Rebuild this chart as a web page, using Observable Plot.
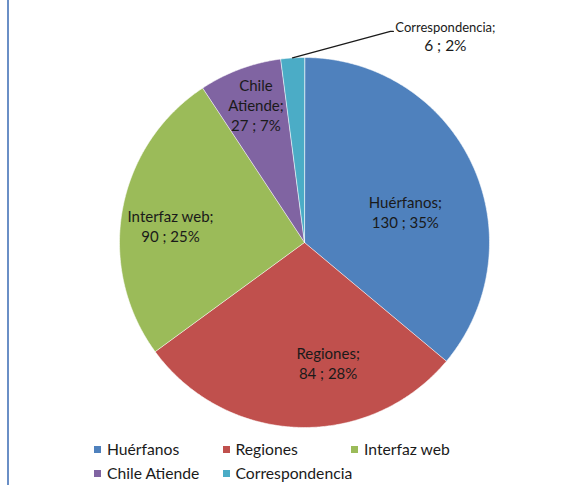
<!DOCTYPE html>
<html>
<head>
<meta charset="utf-8">
<script src="https://cdn.jsdelivr.net/npm/d3@7"></script>
<script src="https://cdn.jsdelivr.net/npm/@observablehq/plot@0.6"></script>
<style>
  body { margin: 0; background: #fff; }
  #frame { position: relative; width: 564px; height: 486px; font-family: Lato, "Liberation Sans", sans-serif; color: #1a1a1a; }
  #frame::before { content: ""; position: absolute; left: 7px; top: 0; width: 2px; height: 485px; background: #6a8fc6; }
  #chart svg { display: block; }
  .legend { position: absolute; left: 94px; top: 440px; display: grid; grid-template-columns: 128.5px 128.5px 128.5px; row-gap: 5px; font-size: 15.7px; line-height: 19px; }
  .legend .item { display: flex; align-items: center; white-space: nowrap; }
  .legend .sw { width: 7px; height: 7px; margin-right: 6px; flex: none; }
</style>
</head>
<body>
<div id="frame">
  <div id="chart"></div>
  <div class="legend" id="legend"></div>
</div>
<script>
// Requests by channel
const categories = ["Huérfanos", "Regiones", "Interfaz web", "Chile Atiende", "Correspondencia"];
const counts = [130, 84, 90, 27, 6];
const percents = [35, 28, 25, 7, 2];
const colors = ["#4F81BD", "#C0504D", "#9BBB59", "#8064A2", "#4BACC6"];
const labelNames = ["Huérfanos;", "Regiones;", "Interfaz web;", "Chile\nAtiende;", "Correspondencia;"];

// Layout of the drawing (pixels)
const W = 564, H = 436, cx = 304, cy = 242, R = 185;

const data = categories.map((name, i) => ({
  name, count: counts[i], percent: percents[i],
  title: labelNames[i],
  value: `${counts[i]} ; ${percents[i]}%`,
  label: `${labelNames[i]}\n${counts[i]} ; ${percents[i]}%`
}));

// Slices clockwise from 12 o'clock, sized by the stated percentage
const arcs = d3.pie().sort(null).value(d => d.percent)(data);

const polar = (t, r) => [r * Math.sin(t), -r * Math.cos(t)];

function slice(a) {
  const n = Math.max(4, Math.ceil((a.endAngle - a.startAngle) / (Math.PI / 360)));
  const ring = [[0, 0]];
  for (let k = 0; k <= n; ++k) ring.push(polar(a.startAngle + (a.endAngle - a.startAngle) * k / n, 1));
  ring.push([0, 0]);
  return {type: "Feature", properties: {name: a.data.name}, geometry: {type: "Polygon", coordinates: [ring]}};
}
const slices = arcs.map(slice);

// Inside labels: radial distance and small turn (degrees) from the slice's mid-angle
const inside = {
  "Huérfanos": {r: 0.57, turn: 8},
  "Regiones": {r: 0.66, turn: -13},
  "Interfaz web": {r: 0.73, turn: -3},
  "Chile Atiende": {r: 0.79, turn: 1}
};
const insideLabels = arcs.filter(a => inside[a.data.name]).map(a => {
  const o = inside[a.data.name];
  const t = (a.startAngle + a.endAngle) / 2 + o.turn * Math.PI / 180;
  const [x, y] = polar(t, o.r);
  return {x, y, label: a.data.label};
});

// Outside label with leader line for the smallest slice
const small = arcs[arcs.length - 1];
const edge = polar((small.startAngle + small.endAngle) / 2, 1);
const elbow = [edge[0] + 0.529, edge[1] - 0.143];
const tail = [elbow[0] + 0.016, elbow[1]];
const leader = [edge, elbow, tail].map(([x, y]) => ({x, y}));
const outsideLabel = [{x: tail[0], y: tail[1], title: small.data.title, value: small.data.value}];

const chart = Plot.plot({
  width: W,
  height: H,
  margin: 0,
  style: {fontFamily: "Lato, 'Liberation Sans', sans-serif", fontSize: "15px", background: "transparent"},
  projection: {
    type: "identity",
    domain: {type: "MultiPoint", coordinates: [[-cx / R, -cy / R], [(W - cx) / R, (H - cy) / R]]}
  },
  color: {domain: categories, range: colors},
  marks: [
    Plot.geo(slices, {fill: d => d.properties.name, stroke: "#ffffff", strokeWidth: 0.8, strokeOpacity: 0.7}),
    Plot.text(insideLabels, {x: "x", y: "y", text: "label", fill: "#1a1a1a", fontSize: 15, lineHeight: 1.35}),
    Plot.line(leader, {x: "x", y: "y", stroke: "#1a1a1a", strokeWidth: 1.3}),
    Plot.text(outsideLabel, {x: "x", y: "y", text: "title", fill: "#1a1a1a", fontSize: 13, textAnchor: "start", dx: 2, dy: -4}),
    Plot.text(outsideLabel, {x: "x", y: "y", text: "value", fill: "#1a1a1a", fontSize: 15.5, dx: 52, dy: 15})
  ]
});
document.getElementById("chart").append(chart);

// Legend below the pie
const legend = document.getElementById("legend");
categories.forEach((name, i) => {
  const item = document.createElement("div");
  item.className = "item";
  const sw = document.createElement("span");
  sw.className = "sw";
  sw.style.background = colors[i];
  const tx = document.createElement("span");
  tx.textContent = name;
  item.append(sw, tx);
  legend.append(item);
});
</script>
</body>
</html>
